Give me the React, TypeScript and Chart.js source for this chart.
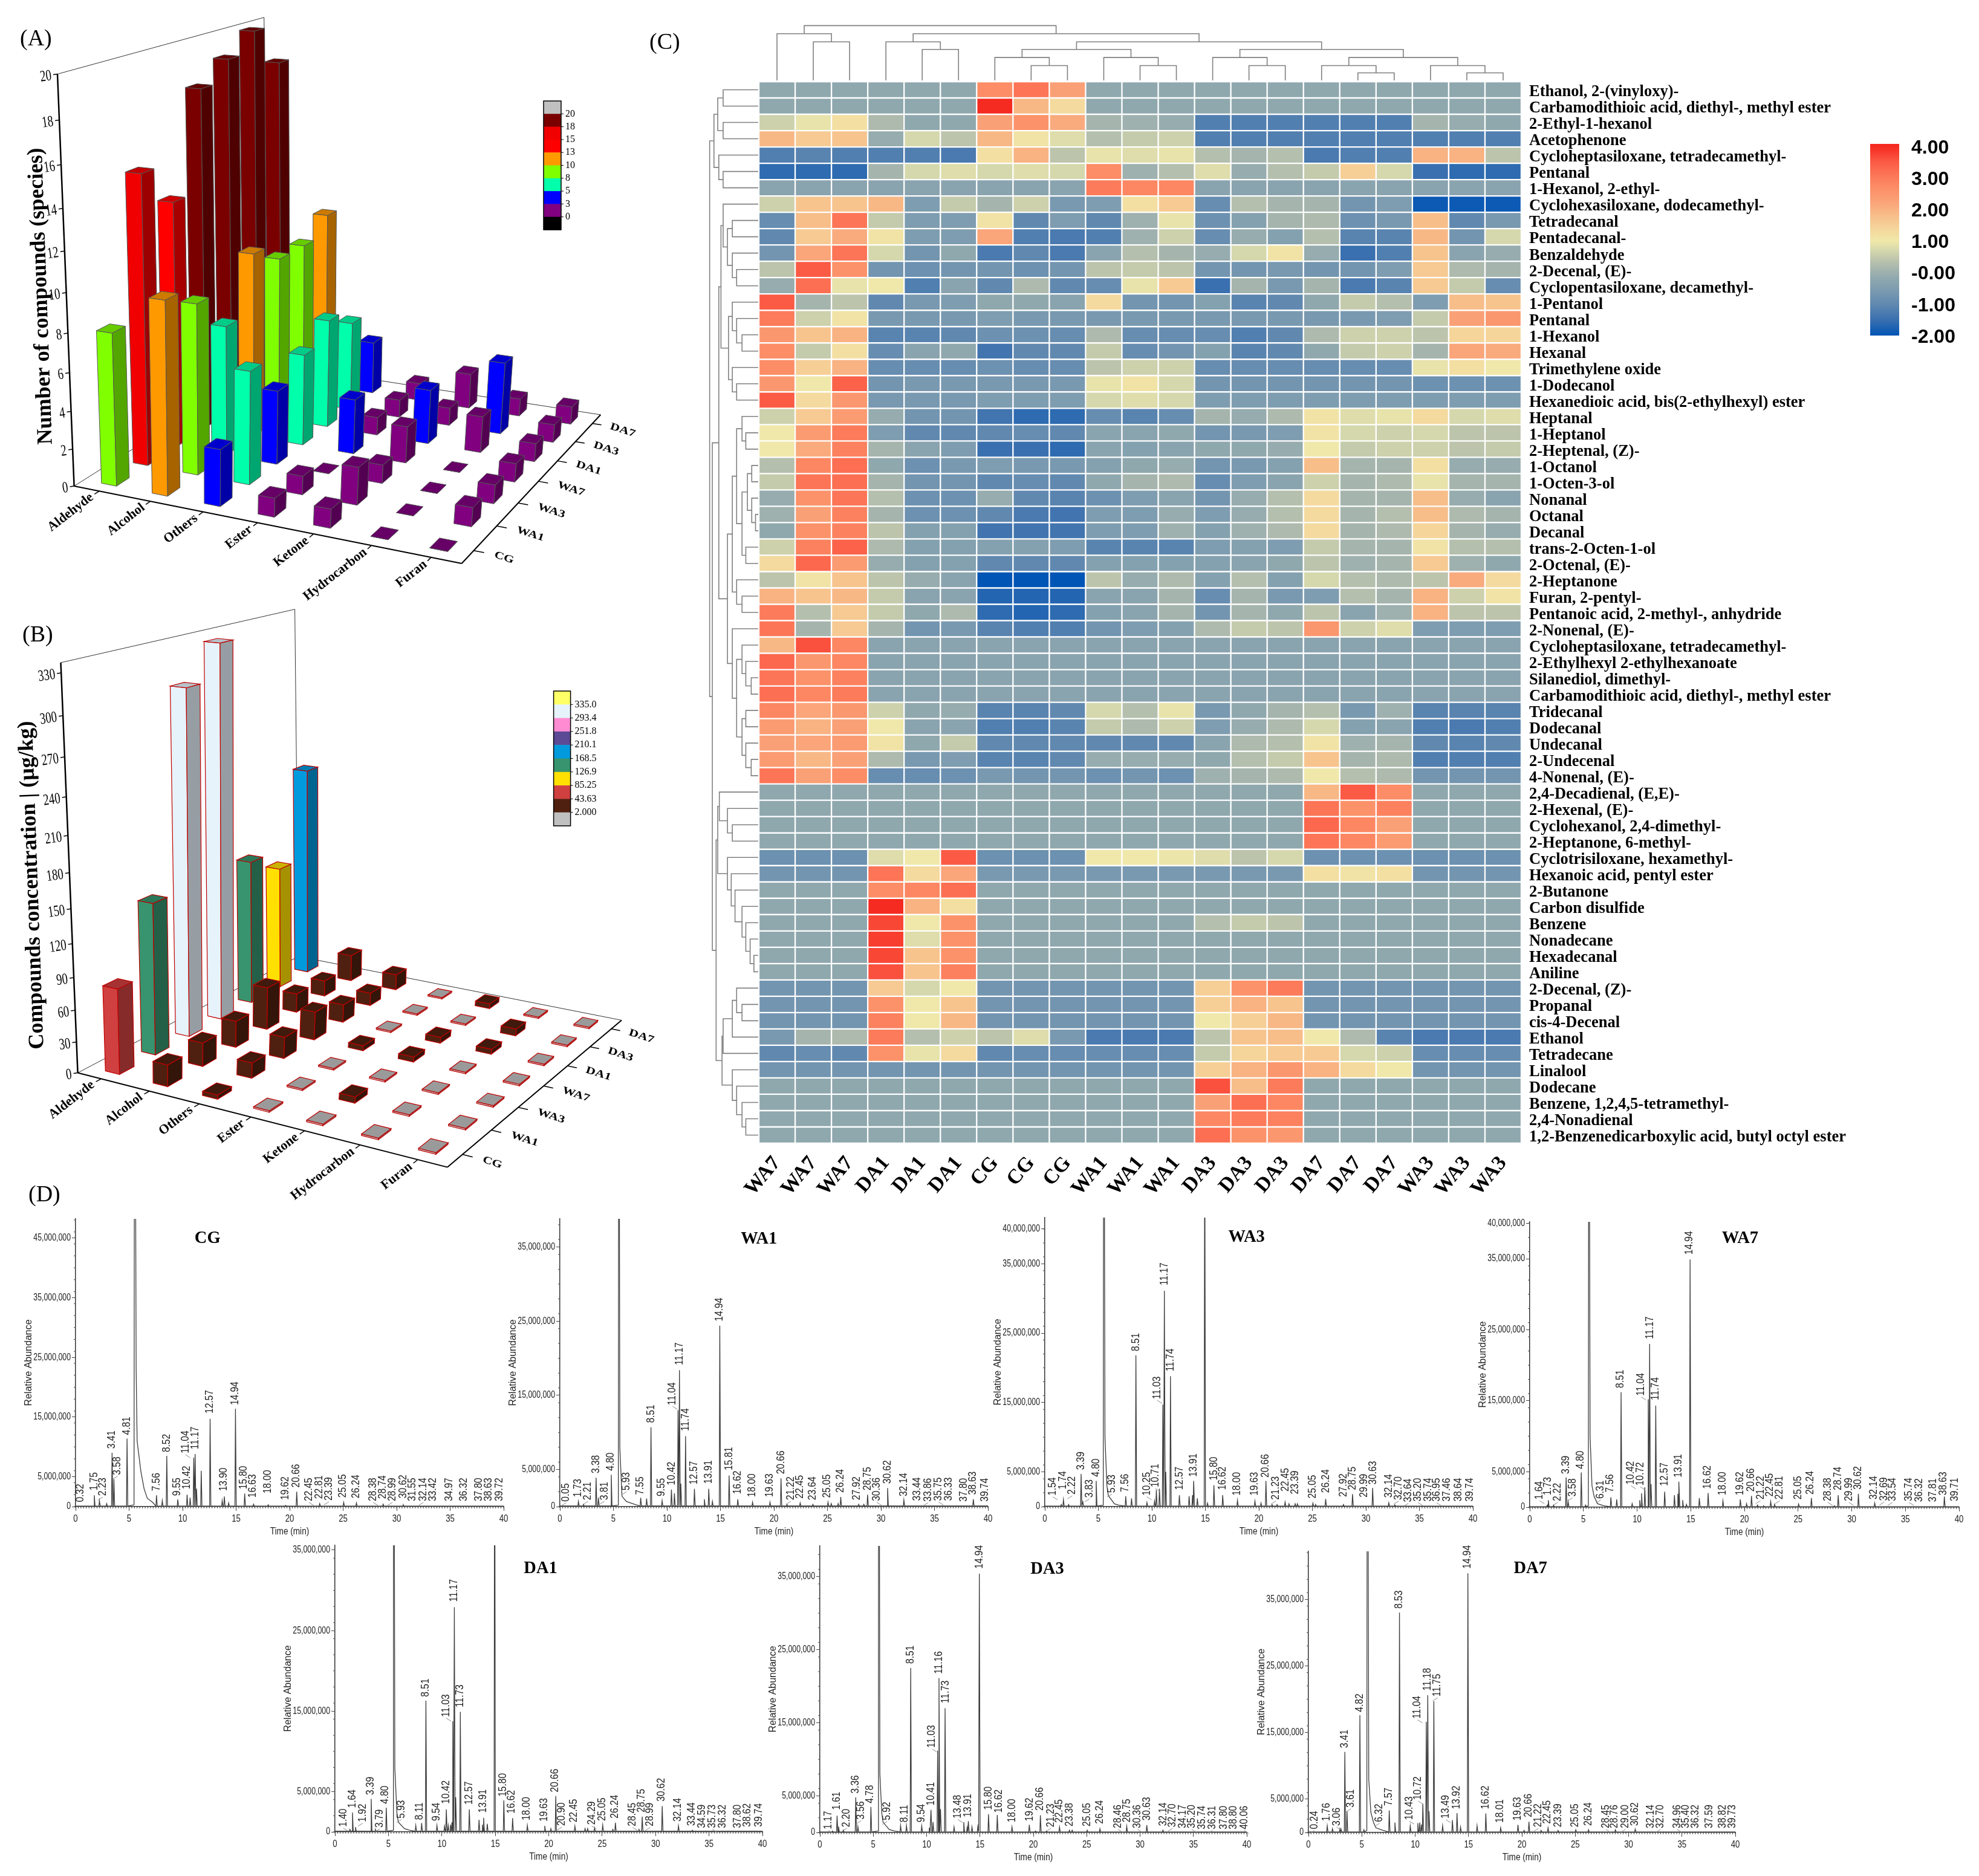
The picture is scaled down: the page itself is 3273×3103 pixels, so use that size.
import { useEffect, useRef } from 'react';
import { Chart, registerables } from 'chart.js';

Chart.register(...registerables);

const SERIF = '"Liberation Serif", serif';
const SANS = '"Liberation Sans", sans-serif';

// ---- panels A and B: compound classes by treatment group
const classNames = ['Aldehyde', 'Alcohol', 'Others', 'Ester', 'Ketone', 'Hydrocarbon', 'Furan'];
const groupNames = ['CG', 'WA1', 'WA3', 'WA7', 'DA1', 'DA3', 'DA7'];

// one row per group, one value per class
const speciesCG = [8, 10, 3, 1, 1, 0, 0];
const speciesWA1 = [15, 9, 6, 1, 2, 0, 1];
const speciesWA3 = [13, 7, 4, 0, 1, 0, 1];
const speciesWA7 = [18, 10, 5, 3, 2, 0, 1];
const speciesDA1 = [19, 9, 6, 1, 3, 2, 1];
const speciesDA3 = [20, 9, 5, 1, 1, 4, 1];
const speciesDA7 = [18, 10, 3, 1, 2, 1, 1];

const concCG = [81, 21, 4, 1.5, 1.5, 1.5, 1.5];
const concWA1 = [142, 23, 15, 1.5, 6, 1.5, 1.5];
const concWA3 = [306, 26, 21, 1.5, 1.5, 1.5, 1.5];
const concWA7 = [333, 42, 28, 5, 5, 1.5, 1.5];
const concDA1 = [140, 19, 18, 1.5, 6, 5, 1.5];
const concDA3 = [121, 16, 13, 1.5, 1.5, 7, 1.5];
const concDA7 = [203, 27, 16, 1.5, 5, 1.5, 1.5];

const speciesLegendTicks = ['20', '18', '15', '13', '10', '8', '5', '3', '0'];
const speciesBandLimits = [2.5, 5, 7.5, 10, 12.5, 15, 17.5, 99];
const speciesBandColors = ['#800080', '#0000FF', '#00FFAA', '#80FF00', '#FF9900', '#FF0000', '#F00000', '#7A0000'];
const speciesLegendColors = ['#C0C0C0', '#7A0000', '#F00000', '#FF0000', '#FF9900', '#80FF00', '#00FFAA', '#0000FF', '#800080', '#000000'];

const concLegendTicks = ['335.0', '293.4', '251.8', '210.1', '168.5', '126.9', '85.25', '43.63', '2.000'];
const concBandLimits = [2, 43.63, 85.25, 126.9, 168.5, 210.1, 251.8, 293.4, 999];
const concBandColors = ['#C0C0C0', '#4F2010', '#D04040', '#FFE000', '#37946E', '#009ADD', '#5C4A96', '#FF8CD2', '#E6F3FB'];
const concLegendColors = ['#FFFF66', '#E6F3FB', '#FF8CD2', '#5C4A96', '#009ADD', '#37946E', '#FFE000', '#D04040', '#4F2010', '#C0C0C0'];

// ---- panel C: clustered heatmap
const heatColumns = ['WA7', 'WA7', 'WA7', 'DA1', 'DA1', 'DA1', 'CG', 'CG', 'CG', 'WA1', 'WA1', 'WA1', 'DA3', 'DA3', 'DA3', 'DA7', 'DA7', 'DA7', 'WA3', 'WA3', 'WA3'];
const heatRows = [
  'Ethanol, 2-(vinyloxy)-', 'Carbamodithioic acid, diethyl-, methyl ester', '2-Ethyl-1-hexanol', 'Acetophenone',
  'Cycloheptasiloxane, tetradecamethyl-', 'Pentanal', '1-Hexanol, 2-ethyl-', 'Cyclohexasiloxane, dodecamethyl-',
  'Tetradecanal', 'Pentadecanal-', 'Benzaldehyde', '2-Decenal, (E)-', 'Cyclopentasiloxane, decamethyl-',
  '1-Pentanol', 'Pentanal', '1-Hexanol', 'Hexanal', 'Trimethylene oxide', '1-Dodecanol',
  'Hexanedioic acid, bis(2-ethylhexyl) ester', 'Heptanal', '1-Heptanol', '2-Heptenal, (Z)-', '1-Octanol',
  '1-Octen-3-ol', 'Nonanal', 'Octanal', 'Decanal', 'trans-2-Octen-1-ol', '2-Octenal, (E)-', '2-Heptanone',
  'Furan, 2-pentyl-', 'Pentanoic acid, 2-methyl-, anhydride', '2-Nonenal, (E)-', 'Cycloheptasiloxane, tetradecamethyl-',
  '2-Ethylhexyl 2-ethylhexanoate', 'Silanediol, dimethyl-', 'Carbamodithioic acid, diethyl-, methyl ester',
  'Tridecanal', 'Dodecanal', 'Undecanal', '2-Undecenal', '4-Nonenal, (E)-', '2,4-Decadienal, (E,E)-',
  '2-Hexenal, (E)-', 'Cyclohexanol, 2,4-dimethyl-', '2-Heptanone, 6-methyl-', 'Cyclotrisiloxane, hexamethyl-',
  'Hexanoic acid, pentyl ester', '2-Butanone', 'Carbon disulfide', 'Benzene', 'Nonadecane', 'Hexadecanal', 'Aniline',
  '2-Decenal, (Z)-', 'Propanal', 'cis-4-Decenal', 'Ethanol', 'Tetradecane', 'Linalool', 'Dodecane',
  'Benzene, 1,2,4,5-tetramethyl-', '2,4-Nonadienal', '1,2-Benzenedicarboxylic acid, butyl octyl ester',
];
const heatValues = [
  [-.2, -.2, -.2, -.2, -.2, -.2, 2.7, 3.1, 2.3, -.2, -.2, -.2, -.2, -.2, -.2, -.2, -.2, -.2, -.2, -.2, -.2],
  [-.2, -.2, -.2, -.2, -.2, -.2, 4, 1.9, 1.3, -.2, -.2, -.2, -.2, -.2, -.2, -.2, -.2, -.2, -.2, -.2, -.2],
  [.6, .9, 1.2, .2, -.2, -.2, 2.3, 2.6, 2.1, .1, 0, -.1, -1.2, -1.2, -1.2, -1.2, -1.2, -1.2, .1, -.1, -.2],
  [1.9, 1.6, 1.7, -.1, .7, .4, 1.9, 1.1, .8, .3, .5, .6, -1.2, -1.2, -1.2, -1.2, -1.2, -1.2, -1.2, -1.2, -1.2],
  [-1.2, -1.1, -1.2, -1.2, -1.2, -1.3, 1.2, 2, .4, .9, .8, .9, .3, .1, .3, -1.3, -1.2, -1.2, 2, 2, .4],
  [-1.6, -1.6, -1.6, .1, .7, .8, .7, .8, .7, 2.7, 0, .3, .8, -.1, .3, .5, 1.5, .7, -1.5, -1.6, -1.6],
  [-.3, -.3, -.3, -.3, -.3, -.3, -.3, -.3, -.3, 3, 2.8, 2.8, -.3, -.3, -.3, -.3, -.3, -.3, -.3, -.3, -.3],
  [.6, 1.7, 1.7, 1.9, -.5, .5, .1, .6, -.6, -.5, 1.2, 1.6, -.9, .3, .1, .1, -.7, -.5, -1.9, -1.9, -1.9],
  [-.9, 1.8, 3.1, .5, -.5, -.5, 1.1, -1, -.5, -1, 0, .9, -.8, -.4, .1, .2, -.8, -.6, 1.8, -1, -.6],
  [-1, 1.6, 2.1, 1.1, -.5, -.5, 2.2, -1.2, -1.3, -1.2, 0, .6, -.9, -.1, -.4, .3, -1.1, -1.1, 1.9, -.7, .7],
  [-.7, 2.2, 3.1, .7, -.7, -.2, -1.3, -1, -1.3, -.3, .3, .1, -.1, .7, 1.1, -.1, -1.5, -1.2, 1.7, -.3, -.1],
  [.4, 3.5, 2.6, -.7, -.8, -.7, -.7, -.8, -.7, .4, .5, .4, -.7, -.7, -.6, -.7, -.7, -.5, 1.6, .2, .1],
  [-.1, 3.2, .9, 1, -1.2, -.3, -1, .2, -1, -.9, .9, 1.6, -1.5, .1, -.6, .1, -1.3, -1.1, 1.6, .5, -.9],
  [3.5, .1, .4, -1, -.6, -.5, -.2, -.2, -.3, 1.3, -.7, -.7, -.4, -1.1, -1, -.2, .5, .3, -.5, 1.8, 1.7],
  [3, .6, 1.1, -.6, -.6, -.6, -.5, -.6, -.6, -.6, -.6, -.6, -.6, -.6, -.6, -.6, -.6, -.5, .5, 2.3, 2.5],
  [2.5, 1.7, 2, -1.1, -1.1, -1, -.8, -.8, -.9, .2, -.9, -.9, -.9, -1.2, -1, .2, .6, .6, .4, 1.4, 1.4],
  [2.7, .5, 1.2, -.9, -.3, -.2, -1.4, -1, -1, .5, -.9, -.7, -.4, -1.1, -1, -.2, .5, .6, .1, 2.2, 2.1],
  [2.7, 1.5, 2, -.9, -.9, -.9, -.8, -.9, -.9, .4, .6, .6, -.9, -.9, -.9, -.9, -.9, -.9, .9, 1.2, 1],
  [2.5, 1, 3.4, -.7, -.6, -.6, -.6, -.6, -.6, .9, 1.1, .7, -.7, -.7, -.7, -.7, -.7, -.7, -.8, -.8, -.8],
  [3.5, 1.3, 2.5, -.6, -.6, -.6, -.5, -.5, -.5, .7, .8, .7, -.5, -.5, -.5, -.5, -.5, -.5, -.5, -.5, -.5],
  [.6, 1.6, 2.4, -.1, -.7, -.7, -1.4, -1.6, -1.6, -.9, -1.1, -.9, .1, -.1, .2, 1.1, .8, .9, 1.3, .7, .8],
  [1, 2.4, 3, -.5, -1, -1, -1, -.9, -1, -.3, -.3, -.2, -.7, -.6, -.5, 1.1, .7, .6, .7, .4, .4],
  [1, 2.1, 2.9, .1, -.3, -.5, -1.5, -1.5, -1.6, -.3, -.4, -.3, -.2, -.2, -.1, 1, .5, .6, .6, .4, .5],
  [.3, 2.8, 3.2, -.2, -.8, -.6, -.5, -.6, -.6, -.4, -.2, -.1, -.7, -.6, -.4, 1.8, .1, .1, 1.2, -.1, -.1],
  [.5, 3.1, 3.2, .1, -.7, -.7, -1, -.9, -1, -.2, .1, .2, -.9, -.5, -.3, .6, .1, .2, .9, .1, .1],
  [-.1, 2.6, 3.1, .3, -.8, -.8, -.1, -1, -1.1, -.8, -.5, -.3, -.7, -.1, .3, 1.3, .1, .1, 1.8, -.1, -.3],
  [0, 2.3, 2.9, .1, -.8, -.8, -1, -1.3, -1.4, -.5, -.5, -.1, -.5, -.1, .3, 1.3, .1, .3, 1.8, .2, .1],
  [-.2, 2.6, 2.9, .4, -.4, -.4, -1.4, -1.4, -1.4, -.5, -.5, 0, -.4, 0, .2, 1.3, .1, .2, 1.4, .1, -.1],
  [.6, 2.9, 3.4, .2, -.4, -.4, -.4, -.4, -.5, -1.1, -1.1, -1.1, -.5, -.4, -.5, .5, .1, .1, 1.1, .3, .3],
  [1.3, 3.3, 2.4, -.1, -.4, -.4, -1, -1, -1, -.4, -.4, -.4, -.4, -.3, -.2, .4, 0, .1, 1.6, 0, -.2],
  [.4, 1.1, 1.7, .4, -.1, -.3, -2, -2, -2, .4, -.1, .2, -.4, .3, -.4, .7, .3, .2, .4, 2.1, 1.3],
  [2, 1.7, 1.9, .5, -.3, -.3, -1.7, -1.7, -1.7, -.3, -.3, .1, -.9, .1, -.6, -.5, .3, .1, 2, .6, 1.1],
  [3, .3, 1.6, .5, -.2, .2, -1.6, -1.7, -1.6, -.4, -.3, .1, -.7, .1, -.2, .4, -.3, 0, 2, .4, .4],
  [3.1, .1, 1.6, .1, -.7, -.6, -1.1, -1.2, -1.2, -.7, -.5, -.4, .2, .5, .4, 2.5, .6, .8, -.5, -.5, -.5],
  [1.9, 3.6, 2.8, -.3, -.3, -.3, -.3, -.3, -.3, -.3, -.3, -.3, -.3, -.3, -.3, -.3, -.3, -.3, -.3, -.3, -.3],
  [3.3, 2.5, 2.8, -.3, -.3, -.3, -.3, -.3, -.3, -.3, -.3, -.3, -.3, -.3, -.3, -.3, -.3, -.3, -.3, -.3, -.3],
  [3.1, 2.6, 2.9, -.3, -.3, -.3, -.3, -.3, -.3, -.3, -.3, -.3, -.3, -.3, -.3, -.3, -.3, -.3, -.3, -.3, -.3],
  [3.2, 2.8, 3, -.3, -.3, -.3, -.3, -.3, -.3, -.3, -.3, -.3, -.3, -.3, -.3, -.3, -.3, -.3, -.3, -.3, -.3],
  [2.8, 2.2, 2.5, .6, -.2, -.1, -1.1, -1.1, -1, .7, .3, .9, -.6, -.2, .1, .3, -.6, 0, -1.1, -1.1, -1.1],
  [2.4, 2, 2.3, 1, -.3, -.3, -1.2, -1.2, -1.1, .5, .2, .6, -.5, -.1, .2, .7, -.4, -.3, -1.2, -1.3, -1.2],
  [2.3, 2.2, 2.4, 1.1, -.2, .5, -1, -1, -1, -1, -1, -1, -.3, .2, .3, 1.1, 0, .1, -1, -1.1, -1],
  [2.4, 1.9, 2.3, .2, -.6, -.5, -1.1, -1.1, -1, -.1, -.1, -.1, -.2, .3, .5, 1.7, .1, .2, -1.2, -1.2, -1.2],
  [3.1, 2.3, 2.7, -.9, -.9, -.8, -.6, -.7, -.7, -.8, -.7, -.8, 0, .1, .2, 1, .3, .2, -.7, -.7, -.7],
  [-.2, -.2, -.2, -.2, -.2, -.2, -.2, -.2, -.2, -.2, -.2, -.2, -.2, -.2, -.2, 1.9, 3.5, 2.7, -.2, -.2, -.2],
  [-.2, -.2, -.2, -.2, -.2, -.2, -.2, -.2, -.2, -.2, -.2, -.2, -.2, -.2, -.2, 3.1, 2.6, 2.9, -.2, -.2, -.2],
  [-.2, -.2, -.2, -.2, -.2, -.2, -.2, -.2, -.2, -.2, -.2, -.2, -.2, -.2, -.2, 3.3, 2.8, 2.3, -.2, -.2, -.2],
  [-.2, -.2, -.2, -.2, -.2, -.2, -.2, -.2, -.2, -.2, -.2, -.2, -.2, -.2, -.2, 3.1, 2.8, 2.4, -.2, -.2, -.2],
  [-.8, -.8, -.8, .8, 1, 3.5, -.8, -.8, -.8, 1, 1, .95, .8, .4, .7, -.8, -.8, -.8, -.8, -.8, -.8],
  [-.7, -.7, -.7, 3.1, 1.3, 2.2, -.6, -.6, -.6, -.6, -.6, -.6, -.6, -.6, -.6, 1.2, 1.1, 1.2, -.7, -.7, -.7],
  [-.2, -.2, -.2, 2.7, 2.8, 3.2, -.2, -.2, -.2, -.2, -.2, -.2, -.2, -.2, -.2, -.2, -.2, -.2, -.2, -.2, -.2],
  [-.2, -.2, -.2, 4, 2, 1.2, -.2, -.2, -.2, -.2, -.2, -.2, -.2, -.2, -.2, -.2, -.2, -.2, -.2, -.2, -.2],
  [-.2, -.2, -.2, 3.7, 1, 2.6, -.2, -.2, -.2, -.2, -.2, -.2, .3, .5, .4, -.2, -.2, -.2, -.2, -.2, -.2],
  [-.2, -.2, -.2, 3.8, .8, 2.6, -.2, -.2, -.2, -.2, -.2, -.2, -.2, -.2, -.2, -.2, -.2, -.2, -.2, -.2, -.2],
  [-.2, -.2, -.2, 3.7, 1.7, 2.6, -.2, -.2, -.2, -.2, -.2, -.2, -.2, -.2, -.2, -.2, -.2, -.2, -.2, -.2, -.2],
  [-.2, -.2, -.2, 3.6, 1.7, 2.9, -.2, -.2, -.2, -.2, -.2, -.2, -.2, -.2, -.2, -.2, -.2, -.2, -.2, -.2, -.2],
  [-.7, -.7, -.7, 1.6, .7, 1, -.7, -.7, -.7, -.7, -.7, -.7, 1.5, 2.6, 3, -.7, -.7, -.7, -.7, -.7, -.7],
  [-.7, -.7, -.7, 2.6, 1, 1.7, -.7, -.7, -.7, -.7, -.7, -.7, 1.5, 2, 1.7, -.7, -.7, -.7, -.7, -.7, -.7],
  [-.7, -.7, -.7, 2.9, 1, 1.9, -.7, -.7, -.7, -.7, -.7, -.7, 1, 1.5, 1.9, -.7, -.7, -.7, -.7, -.7, -.7],
  [-.6, .1, .2, 3, .3, .6, .4, .8, -.6, -1.3, -1.3, -1.3, .4, 1.7, 1.8, 1, .2, -1.1, -1.3, -1.3, -1.3],
  [-1, -.9, -1, 2.6, .9, 1.3, -1, -.9, -.9, -.9, -.9, -.9, .5, 1.4, 1.6, 1.6, .7, .6, -.9, -.9, -.9],
  [-.7, -.7, -.7, -.7, -.7, -.7, -.7, -.7, -.7, -.7, -.7, -.7, 1.5, 2, 2.5, 2, 1.3, 1, -.7, -.7, -.7],
  [-.2, -.2, -.2, -.2, -.2, -.2, -.2, -.2, -.2, -.2, -.2, -.2, 3.6, 1.8, 3, -.2, -.2, -.2, -.2, -.2, -.2],
  [-.2, -.2, -.2, -.2, -.2, -.2, -.2, -.2, -.2, -.2, -.2, -.2, 2.3, 3.2, 2.8, -.2, -.2, -.2, -.2, -.2, -.2],
  [-.2, -.2, -.2, -.2, -.2, -.2, -.2, -.2, -.2, -.2, -.2, -.2, 2.8, 3, 2.9, -.2, -.2, -.2, -.2, -.2, -.2],
  [-.2, -.2, -.2, -.2, -.2, -.2, -.2, -.2, -.2, -.2, -.2, -.2, 3.2, 2.6, 2.5, -.2, -.2, -.2, -.2, -.2, -.2],
];
const heatStopValues = [-2, -1.5, -1, -.5, -.2, .1, .4, .7, 1, 1.4, 1.8, 2.2, 2.7, 3.1, 3.5, 4];
const heatStopColors = ['#0055B5', '#3A70AF', '#6189B0', '#7F9DB0', '#8FA8AE', '#A5B5AE', '#BCC4AC', '#D5D8AC', '#F0E8AA', '#F5D59A', '#F7BE8A', '#FAA57A', '#FC8D66', '#FC7556', '#FB5B45', '#F52A20'];
const heatBarTicks = [4, 3, 2, 1, 0, -1, -2];
const heatBarLabels = ['4.00', '3.00', '2.00', '1.00', '-0.00', '-1.00', '-2.00'];

// dendrograms: [merge level, left, right], a number is a leaf index
const columnTree = [95,
  [125, 0, [155, 1, 2]],
  [125, [155, 3, [183, 4, 5]],
    [155,
      [183, [213, 6, [243, 7, 8]], [213, 9, [243, 10, 11]]],
      [183, [213, 12, [243, 13, 14]],
        [213, [243, 15, [270, 16, 17]], [243, 18, [270, 19, 20]]]]]]];

const rowTree = [25,
  [33, [40, [50, 0, 1], [50, 2, 3]], [42, 4, [50, 5, 6]]],
  [30,
    [42,
      [46,
        [50, 7, [58, [67, 8, 9], [67, 10, [75, 11, 12]]]],
        [60, [67, 13, [75, 14, [85, 15, 16]]], [67, 17, [75, 18, 19]]]],
      [58,
        [67, [75, [85, 20, [92, 21, 22]], [85, [95, [103, 23, 24], [103, 25, [110, 26, 27]]], [92, 28, 29]]], [75, 30, [85, 31, 32]]],
        [67, 33, [75, [85, 34, [92, 35, [102, 36, 37]]], [85, [92, 38, 39], [92, 40, [102, 41, 42]]]]]]],
    [37,
      [40, [43, 43, [58, 44, [67, 45, 46]]], [58, 47, [65, 48, [72, 49, [85, 50, [92, 51, [100, 52, [107, 53, 54]]]]]]]],
      [48, [50, [67, [75, 55, [85, 56, 57]], 58], 59], [67, 60, [75, 61, [85, 62, [92, 63, 64]]]]]]]];

// ---- panel D: chromatograms. peaks are [time, abundance in millions]; labels are [text, column in min, foot of text in millions]
const cgTail = [[5.46, .3], [5.5, 70], [5.58, 70], [5.66, 23], [5.75, 11], [6.1, 5.9], [6.4, 3], [6.7, 1.4], [7.2, .7], [7.4, .3]];
const cgPeaks = [[1.75, 1.9], [2.23, 1], [2.9, .5], [3.41, 9], [3.58, 4.6], [4.81, 11.4], [7.56, 1.9], [8.1, 1], [8.52, 8.5], [9.55, 1.2], [10.42, 2], [10.7, 1.5], [11.04, 8.2], [11.17, 8.8], [11.3, 3], [11.74, 6], [12.57, 14.7], [13.7, 1], [13.9, 1.7], [14.3, .6], [14.94, 16.4], [15.8, 2.2], [16.63, .4], [18, .3], [19.62, .2], [20.66, 2.5], [22.81, .5], [25.05, .7], [26.24, .6], [28.74, .4], [30.62, .3]];
const cgLabels = [['0.32', .46, .65], ['1.75', 1.75, 2.6], ['2.23', 2.54, 1.7], ['3.41', 3.4, 9.6], ['3.58', 3.92, 5.2], ['4.81', 4.81, 11.9], ['7.56', 7.56, 2.5], ['8.52', 8.51, 9], ['9.55', 9.5, 1.7], ['10.42', 10.41, 2.8], ['11.04', 10.26, 8.8], ['11.17', 11.2, 9.5], ['12.57', 12.56, 15.5], ['13.90', 13.87, 2.5], ['14.94', 14.92, 16.9], ['15.80', 15.71, 2.8], ['16.63', 16.57, 1.4], ['18.00', 17.95, 2.1], ['19.62', 19.6, 1], ['20.66', 20.61, 3.1], ['22.45', 21.8, .8], ['22.81', 22.8, 1.2], ['23.39', 23.67, .9], ['25.05', 24.96, 1.4], ['26.24', 26.2, 1.3], ['28.38', 27.8, .8], ['28.74', 28.7, 1.2], ['28.99', 29.6, .8], ['30.62', 30.6, 1.3], ['31.55', 31.5, .8], ['32.14', 32.5, .8], ['33.42', 33.4, .8], ['34.97', 34.9, .8], ['36.32', 36.3, .8], ['37.80', 37.7, .8], ['38.63', 38.6, .8], ['39.72', 39.6, .8]];

const wa1Tail = [[5.46, .2], [5.49, 60], [5.54, 60], [5.6, 8], [5.8, 1.4], [6.2, .7], [7, .3]];
const wa1Peaks = [[1.73, .7], [2.21, .3], [3.38, 3.9], [3.6, 1.2], [4.8, 4.3], [7.55, 1.2], [8.1, 1.1], [8.51, 10.7], [9.55, .8], [10.42, 2.3], [10.7, 1.8], [11.04, 13], [11.17, 18.4], [11.3, 3.1], [11.74, 9.5], [12.57, 2.4], [13.5, 1], [13.91, 2.4], [14.25, .7], [14.94, 24.4], [15.81, 4.2], [16.62, 1], [18, .6], [19.63, .6], [20.66, 3.8], [21.22, .3], [22.45, .5], [23.64, .3], [25.05, .6], [25.35, .4], [26, .4], [26.24, 1.3], [27.92, .3], [28.4, .3], [28.75, 1.6], [30.62, 2.5], [32.14, .9], [38.63, 1]];
const wa1Labels = [['0.05', .58, .6], ['1.73', 1.71, 1.2], ['2.21', 2.63, .8], ['3.38', 3.37, 4.4], ['3.81', 4.16, .8], ['4.80', 4.77, 4.75], ['5.93', 6.24, 2.1], ['7.55', 7.5, 1.5], ['8.51', 8.54, 11.2], ['9.55', 9.52, 1.3], ['10.42', 10.44, 2.8], ['11.04', 10.53, 13.6], ['11.17', 11.2, 19], ['11.74', 11.75, 10.1], ['12.57', 12.55, 2.9], ['13.91', 13.9, 3], ['14.94', 14.94, 24.9], ['15.81', 15.8, 4.8], ['16.62', 16.59, 1.6], ['18.00', 17.96, 1.2], ['19.63', 19.62, 1.2], ['20.66', 20.66, 4.3], ['21.22', 21.58, .8], ['22.45', 22.46, 1], ['23.64', 23.6, .8], ['25.05', 25, 1.1], ['26.24', 26.2, 1.8], ['27.92', 27.73, .8], ['28.75', 28.74, 2.1], ['30.36', 29.6, .67], ['30.62', 30.63, 3], ['32.14', 32.16, 1.3], ['33.44', 33.39, .7], ['33.86', 34.4, .6], ['35.75', 35.38, .7], ['36.33', 36.33, .7], ['37.80', 37.77, .6], ['38.63', 38.6, 1.5], ['39.74', 39.7, .6]];

const wa3Tail = [[5.46, .2], [5.49, 60], [5.55, 60], [5.62, 10], [5.8, 3], [5.93, 1.6], [6.5, .4], [6.9, .2]];
const wa3Peaks = [[1.54, .3], [1.74, 1], [2.22, .3], [3.39, 4.7], [3.55, .7], [4.8, 3.7], [7.56, 1.5], [8.1, 1.2], [8.51, 21.8], [9.54, .6], [10.25, .8], [10.42, 2.4], [10.71, 2.6], [11.03, 14.7], [11.17, 31.1], [11.3, 5], [11.74, 18.8], [12.57, 1.65], [13.48, 1.5], [13.8, 1.65], [13.91, 3.7], [14.25, 1.2], [14.94, 60], [15.2, .5], [15.8, 3.1], [16.62, 1.65], [18, .9], [19.63, .8], [20.2, .5], [20.66, 3.7], [21.23, .3], [21.7, .3], [22.45, .65], [22.81, .4], [23.39, .4], [23.6, .4], [25.05, .5], [25.3, .3], [26.24, 1.1], [27.9, .3], [28.75, 1.8], [30.63, 2.7], [32.14, .55], [32.7, .25]];
const wa3Labels = [['1.54', .74, 1.5], ['1.74', 1.72, 2.4], ['2.22', 2.57, 1.65], ['3.39', 3.37, 5.2], ['3.83', 4.17, 1.2], ['4.80', 4.81, 4.2], ['5.93', 6.28, 1.9], ['7.56', 7.53, 2], ['8.51', 8.51, 22.3], ['10.25', 9.53, 1.5], ['10.71', 10.32, 2.7], ['11.03', 10.5, 15.4], ['11.17', 11.21, 31.8], ['11.74', 11.76, 19.4], ['12.57', 12.59, 2.3], ['13.91', 13.9, 4.2], ['15.80', 15.8, 3.7], ['16.62', 16.6, 2.3], ['18.00', 17.98, 1.5], ['19.63', 19.63, 1.5], ['20.66', 20.64, 4.1], ['21.23', 21.6, .9], ['22.45', 22.48, 2.1], ['23.39', 23.4, 1.7], ['25.05', 25.05, 1.1], ['26.24', 26.28, 1.9], ['27.92', 27.9, 1.3], ['28.75', 28.76, 2.3], ['29.99', 29.83, 1.25], ['30.63', 30.66, 3.1], ['32.14', 32.13, 1.2], ['32.70', 33.05, .87], ['33.64', 33.97, .56], ['35.20', 34.88, .65], ['35.74', 35.8, .65], ['36.95', 36.6, .65], ['37.46', 37.55, .65], ['38.64', 38.65, .65], ['39.74', 39.75, .65]];

const wa7Tail = [[5.46, .2], [5.49, 60], [5.55, 60], [5.62, 10], [5.8, 3], [6, 1.5], [6.31, .5], [6.9, .2]];
const wa7Peaks = [[1.64, .3], [1.73, 1], [2.22, .3], [3.39, 4.2], [3.58, .8], [4.8, 4.9], [5.2, .3], [7.56, 1.4], [8.1, 1.1], [8.51, 16.2], [9.54, .5], [10.25, 1], [10.42, 1.95], [10.72, 2.8], [11.04, 15.2], [11.17, 23], [11.3, 3.25], [11.74, 14.3], [12.57, 2.2], [13.48, 1.7], [13.8, 1.9], [13.91, 3.6], [14.25, 1], [14.6, .4], [14.94, 34.9], [15.8, 1.3], [16.62, 2], [18, .9], [19.62, 1.1], [20.2, .5], [20.66, 1.6], [21.22, .3], [21.8, .2], [22.45, .8], [22.81, .4], [25.05, .45], [26.24, 1.3], [28.38, .2], [28.74, 1.7], [30.62, 1.9], [32.14, .6], [38.63, 1.5]];
const wa7Labels = [['1.64', .92, 1], ['1.73', 1.69, 1.6], ['2.22', 2.6, .76], ['3.39', 3.37, 4.6], ['3.58', 3.98, 1.4], ['4.80', 4.75, 5.3], ['6.31', 6.62, 1.1], ['7.56', 7.51, 2], ['8.51', 8.46, 16.7], ['10.42', 9.44, 3.1], ['10.72', 10.3, 2.95], ['11.04', 10.39, 15.6], ['11.17', 11.19, 23.6], ['11.74', 11.74, 15], ['12.57', 12.54, 2.9], ['13.91', 13.89, 4.1], ['14.94', 14.9, 35.5], ['16.62', 16.58, 2.5], ['18.00', 17.96, 1.6], ['19.62', 19.59, 1.6], ['20.66', 20.6, 2.1], ['21.22', 21.5, 1], ['22.45', 22.38, 1.4], ['22.81', 23.3, 1], ['25.05', 25, 1], ['26.24', 26.15, 1.7], ['28.38', 27.77, .76], ['28.74', 28.75, 2.3], ['29.99', 29.73, .76], ['30.62', 30.59, 2.4], ['32.14', 32.06, 1], ['32.69', 33.04, .82], ['33.54', 33.8, .76], ['35.74', 35.34, .76], ['36.32', 36.26, .67], ['37.81', 37.58, .67], ['38.63', 38.56, 1.6], ['39.71', 39.63, .76]];

const da1Tail = [[5.44, .2], [5.47, 60], [5.53, 60], [5.6, 8], [5.8, 2.2], [5.93, 1.2], [6.5, .4], [7, .2]];
const da1Peaks = [[1.4, .3], [1.64, 2.4], [1.92, .6], [3.39, 4.1], [3.79, .3], [4.8, 3], [7.56, .8], [8.11, 1.1], [8.51, 16.3], [9.54, .8], [10.25, .7], [10.42, 2.8], [10.6, .8], [10.8, .9], [10.95, 1.2], [11.03, 13.75], [11.17, 27.9], [11.3, 4.3], [11.73, 14.9], [12.57, 2.8], [13.48, 1.5], [13.8, .9], [13.91, 1.75], [14.25, 1], [14.94, 60], [15.8, 3.9], [16.62, 1.7], [18, .8], [19.63, .75], [20.2, .4], [20.66, 4.45], [22.45, .7], [23.4, .4], [23.64, .4], [24.29, .5], [25.05, .85], [26, .3], [26.24, 1.15], [28.45, .3], [28.75, 1.9], [30.62, 3.2], [32.14, .75], [33.44, .2]];
const da1Labels = [['1.40', .77, .55], ['1.64', 1.62, 2.9], ['1.92', 2.6, 1.15], ['3.39', 3.34, 4.5], ['3.79', 4.2, .45], ['4.80', 4.72, 3.4], ['5.93', 6.22, 1.6], ['8.11', 7.9, 1.4], ['8.51', 8.49, 16.7], ['9.54', 9.5, 1.27], ['10.42', 10.42, 3.4], ['11.03', 10.42, 14.2], ['11.17', 11.16, 28.5], ['11.73', 11.71, 15.4], ['12.57', 12.54, 3.3], ['13.91', 13.85, 2.3], ['15.80', 15.72, 4.3], ['16.62', 16.52, 2.2], ['18.00', 17.93, 1.35], ['19.63', 19.59, 1.2], ['20.66', 20.6, 4.85], ['20.90', 21.24, .67], ['22.45', 22.38, 1.1], ['24.29', 24.03, .8], ['25.05', 25.01, 1.27], ['26.24', 26.2, 1.6], ['28.45', 27.86, .62], ['28.75', 28.69, 2.35], ['28.99', 29.49, .62], ['30.62', 30.56, 3.7], ['32.14', 32.09, 1.2], ['33.44', 33.38, .67], ['34.59', 34.36, .4], ['35.73', 35.31, .4], ['36.32', 36.26, .4], ['37.80', 37.7, .4], ['38.62', 38.59, .55], ['39.74', 39.69, .55]];

const da3Tail = [[5.46, .2], [5.49, 60], [5.56, 60], [5.62, 8], [5.8, 2.6], [5.92, 1.4], [6.5, .4], [7, .2]];
const da3Peaks = [[1.17, .2], [1.61, 2.3], [1.75, .8], [2.2, .3], [3.36, 4.8], [3.56, .8], [4.78, 3.5], [7.56, .95], [8.11, .95], [8.51, 22.5], [9.54, .9], [10.25, .65], [10.41, 3.1], [10.6, 1.45], [11.03, 11.2], [11.16, 21.1], [11.3, 3.2], [11.73, 17], [12.57, .75], [13.48, 1.4], [13.8, .65], [13.91, 1.55], [14.25, .75], [14.8, .8], [14.94, 35.4], [15.8, 2.5], [16.62, 2.4], [18, .75], [19.62, 1.05], [20.2, .2], [20.66, 2.35], [21.23, .2], [22.45, .75], [23.38, .3], [23.64, .3], [25.05, .3], [26.24, .5], [28.75, .85], [30.63, 1], [32.14, .3]];
const da3Labels = [['1.17', .8, .36], ['1.61', 1.6, 3], ['2.20', 2.52, .65], ['3.36', 3.35, 5.25], ['3.56', 3.87, 1.7], ['4.78', 4.73, 3.9], ['5.92', 6.3, 1.6], ['8.11', 7.96, 1.3], ['8.51', 8.51, 23], ['9.54', 9.55, 1.3], ['10.41', 10.41, 3.6], ['11.03', 10.51, 11.5], ['11.16', 11.18, 21.6], ['11.73', 11.77, 17.6], ['13.48', 12.93, 1.85], ['13.91', 13.89, 2], ['14.94', 14.94, 36], ['15.80', 15.79, 3], ['16.62', 16.77, 2.6], ['18.00', 18, 1.3], ['19.62', 19.66, 1.45], ['20.66', 20.65, 2.9], ['21.23', 21.66, .65], ['22.45', 22.46, 1.25], ['23.38', 23.41, .75], ['25.05', 25.07, .75], ['26.24', 26.24, 1.1], ['28.46', 27.93, .5], ['28.75', 28.76, 1.3], ['30.36', 29.77, .5], ['30.63', 30.63, 1.55], ['32.14', 32.17, .8], ['32.70', 33.06, .65], ['34.17', 34.01, .5], ['35.20', 34.84, .5], ['35.74', 35.82, .36], ['36.31', 36.77, .36], ['37.80', 37.85, .36], ['38.80', 38.77, .36], ['40.06', 39.75, .36]];

const da7Tail = [[5.47, .3], [5.5, 60], [5.58, 60], [5.65, 8], [5.85, 3], [6.1, 1.5], [6.32, .7], [7, .3]];
const da7Peaks = [[.24, .1], [1.76, 1], [2.25, .55], [2.95, .55], [3.06, .5], [3.41, 12.1], [3.61, 3.2], [4.82, 17.6], [5.2, .4], [7.57, 3.3], [8.1, 1.5], [8.53, 33], [9.54, 1], [10.25, 1.4], [10.43, 1.5], [10.6, 1.2], [10.72, 4.3], [11.04, 16.6], [11.18, 20.6], [11.3, 3.2], [11.75, 19.7], [12.57, 1], [13.49, 1.85], [13.92, 2.9], [14.25, .8], [14.94, 38.9], [15.8, 1], [16.62, 2.85], [18.01, .7], [19.63, 1.15], [20.2, .3], [20.66, 1.6], [21.8, .3], [22.45, .7], [23.39, .3], [25.05, .4], [26.24, .4], [28.76, .4], [30.62, .5]];
const da7Labels = [['0.24', .58, .4], ['1.76', 1.69, 1.6], ['3.06', 2.64, .9], ['3.41', 3.38, 12.6], ['3.61', 3.99, 3.65], ['4.82', 4.82, 18], ['6.32', 6.66, 1.47], ['7.57', 7.55, 3.9], ['8.53', 8.5, 33.5], ['10.43', 9.45, 1.8], ['10.72', 10.28, 4.8], ['11.04', 10.22, 17], ['11.18', 11.17, 21.2], ['11.75', 12.1, 20.3], ['13.49', 12.89, 2], ['13.92', 13.88, 3.4], ['14.94', 14.92, 39.5], ['16.62', 16.58, 3.4], ['18.01', 17.96, 1.37], ['19.63', 19.59, 1.7], ['20.66', 20.63, 2.2], ['21.22', 21.55, .7], ['22.45', 22.41, 1.2], ['23.39', 23.39, .7], ['25.05', 24.99, .7], ['26.24', 26.22, .9], ['28.45', 27.87, .55], ['28.76', 28.7, .55], ['29.00', 29.69, .55], ['30.62', 30.6, .9], ['32.14', 32.08, .55], ['32.70', 33, .55], ['34.96', 34.54, .55], ['35.40', 35.36, .55], ['36.32', 36.29, .55], ['37.59', 37.54, .55], ['38.82', 38.8, .55], ['39.73', 39.72, .55]];

// ---- helpers
function hexToRgb(hex: string) {
  return [parseInt(hex.slice(1, 3), 16), parseInt(hex.slice(3, 5), 16), parseInt(hex.slice(5, 7), 16)];
}

function shade(hex: string, k: number) {
  const c = hexToRgb(hex);
  return `rgb(${c[0] * k},${c[1] * k},${c[2] * k})`;
}

function heatColor(v: number) {
  let i = 0;
  while (i < heatStopValues.length - 2 && v > heatStopValues[i + 1]) i++;
  const t = Math.max(0, Math.min(1, (v - heatStopValues[i]) / (heatStopValues[i + 1] - heatStopValues[i])));
  const a = hexToRgb(heatStopColors[i]);
  const b = hexToRgb(heatStopColors[i + 1]);
  return `rgb(${a[0] + (b[0] - a[0]) * t},${a[1] + (b[1] - a[1]) * t},${a[2] + (b[2] - a[2]) * t})`;
}

function ChartCanvas({ left, top, width, height, config }: any) {
  const ref = useRef<HTMLCanvasElement>(null);
  useEffect(() => {
    if (!ref.current) return;
    const chart = new Chart(ref.current, config);
    return () => chart.destroy();
  }, [config]);
  return <canvas ref={ref} width={width} height={height} style={{ position: 'absolute', left, top, width, height }} />;
}

// ---- 3D bar panels
// unit square of the floor to the page, plus the vertical axis, as one projective matrix
function makeProjection(f: any) {
  const [x0, y0] = f.origin, [x1, y1] = f.frontRight, [x2, y2] = f.backRight, [x3, y3] = f.backLeft;
  const [x4, y4] = f.axisTop, [x5, y5] = f.backTop;
  const dx1 = x1 - x2, dx2 = x3 - x2, sx = x0 - x1 + x2 - x3;
  const dy1 = y1 - y2, dy2 = y3 - y2, sy = y0 - y1 + y2 - y3;
  const den = dx1 * dy2 - dx2 * dy1;
  const g = (sx * dy2 - dx2 * sy) / den;
  const h = (dx1 * sy - sx * dy1) / den;
  const a = x1 - x0 + g * x1, b = x3 - x0 + h * x3, c = x0;
  const d = y1 - y0 + g * y1, e = y3 - y0 + h * y3, ff = y0;
  const i = (e + y4 - y5 * (1 + h)) / (y5 - y4);
  const cz = x4 * (i + 1) - c, fz = y4 * (i + 1) - ff;
  // small shear so the back wall corner lands where it should in x as well
  const shear = x5 - (b + cz + c) / (h + i + 1);
  return (u: number, v: number, w: number) => {
    const q = g * u + h * v + i * w + 1;
    return [(a * u + b * v + cz * w + c) / q + shear * v * w, (d * u + e * v + fz * w + ff) / q];
  };
}

function poly(ctx: any, pts: number[][], fill: string, stroke: string, lw: number) {
  ctx.beginPath();
  pts.forEach((p, i) => (i ? ctx.lineTo(p[0], p[1]) : ctx.moveTo(p[0], p[1])));
  ctx.closePath();
  ctx.fillStyle = fill;
  ctx.fill();
  ctx.strokeStyle = stroke;
  ctx.lineWidth = lw;
  ctx.stroke();
}

function line(ctx: any, a: number[], b: number[], color: string, lw: number) {
  ctx.beginPath();
  ctx.moveTo(a[0], a[1]);
  ctx.lineTo(b[0], b[1]);
  ctx.strokeStyle = color;
  ctx.lineWidth = lw;
  ctx.stroke();
}

function textAt(ctx: any, s: string, x: number, y: number, font: string, angle: number, align: string, sx = 1, sy = 1, color = '#000') {
  ctx.save();
  ctx.translate(x, y);
  ctx.rotate((angle * Math.PI) / 180);
  ctx.scale(sx, sy);
  ctx.font = font;
  ctx.fillStyle = color;
  ctx.textAlign = align;
  ctx.textBaseline = 'middle';
  ctx.fillText(s, 0, 0);
  ctx.restore();
}

function make3dConfig(p: any) {
  const points: any[] = [];
  p.rows.forEach((row: number[], g: number) => row.forEach((val, c) => points.push({ x: c + 0.5, y: val, z: g + 0.5 })));
  const project = makeProjection(p.frame);

  const plugin = {
    id: 'bars3d',
    afterDatasetsDraw(chart: any) {
      const { ctx, scales } = chart;
      const dec = (s: any, v: number) => s.getDecimalForPixel(s.getPixelForValue(v));
      const P = (x: number, z: number, y: number) => project(dec(scales.x, x), dec(scales.z, z), dec(scales.y, y));
      const n = classNames.length;

      // walls and floor
      line(ctx, P(0, 0, 0), P(0, n, 0), '#333', 1);
      line(ctx, P(0, n, 0), P(n, n, 0), '#333', 1);
      line(ctx, P(n, n, 0), P(n, 0, 0), '#000', 2);
      line(ctx, P(n, 0, 0), P(0, 0, 0), '#000', 2);
      line(ctx, P(0, 0, p.yMax), P(0, n, p.yMax), '#333', 1);
      line(ctx, P(0, n, p.yMax), P(0, n, 0), '#333', 1);

      // far rows first, left to right inside a row
      const sorted = chart.data.datasets[0].data.slice().sort((a: any, b: any) => b.z - a.z || a.x - b.x);
      sorted.forEach((b: any) => {
        const limit = p.bandLimits.findIndex((l: number) => b.y < l);
        const col = p.bandColors[limit < 0 ? p.bandColors.length - 1 : limit];
        const x0 = b.x - 0.15, x1 = b.x + 0.15, z0 = b.z - 0.2, z1 = b.z + 0.2;
        poly(ctx, [P(x0, z0, 0), P(x1, z0, 0), P(x1, z0, b.y), P(x0, z0, b.y)], col, p.stroke, p.strokeWidth);
        poly(ctx, [P(x1, z0, 0), P(x1, z1, 0), P(x1, z1, b.y), P(x1, z0, b.y)], shade(col, 0.65), p.stroke, p.strokeWidth);
        poly(ctx, [P(x0, z0, b.y), P(x1, z0, b.y), P(x1, z1, b.y), P(x0, z1, b.y)], shade(col, 0.8), p.stroke, p.strokeWidth);
      });

      // value axis
      line(ctx, P(0, 0, 0), P(0, 0, p.yMax), '#000', 2.5);
      scales.y.ticks.forEach((t: any) => {
        const a = P(0, 0, t.value);
        line(ctx, a, [a[0] - 7, a[1] + 1], '#000', 1.5);
        textAt(ctx, String(t.value), a[0] - 10, a[1] + 3, `26px ${SERIF}`, -8, 'right', 0.72);
      });
      textAt(ctx, p.yTitle, p.yTitlePos[0], p.yTitlePos[1], `bold 36px ${SERIF}`, -92, 'center');

      // class and group axes
      classNames.forEach((name, i) => {
        const a = P(i + 0.5, 0, 0);
        const b = P(i + 0.5, -0.14, 0);
        line(ctx, a, b, '#000', 1.5);
        const c = P(i + 0.5, -0.22, 0);
        textAt(ctx, name, c[0], c[1], `bold 22px ${SERIF}`, -38, 'right');
      });
      groupNames.forEach((name, i) => {
        const a = P(n, i + 0.5, 0);
        const b = P(n + 0.17, i + 0.5, 0);
        line(ctx, a, b, '#000', 1.5);
        const c = P(n + 0.34, i + 0.5, 0);
        textAt(ctx, name, c[0], c[1], `bold 17px ${SERIF}`, 18, 'left', 1.3);
      });

      // colour legend
      const lg = p.legend;
      lg.colors.forEach((col: string, i: number) => {
        ctx.fillStyle = col;
        ctx.fillRect(lg.x, lg.y + i * lg.step, lg.w, lg.step + 0.5);
      });
      ctx.strokeStyle = '#000';
      ctx.lineWidth = 1.5;
      ctx.strokeRect(lg.x, lg.y, lg.w, lg.step * lg.colors.length);
      lg.ticks.forEach((t: string, i: number) => {
        const y = lg.y + lg.step * (i + 1);
        line(ctx, [lg.x + lg.w, y], [lg.x + lg.w + 4, y], '#000', 1);
        textAt(ctx, t, lg.x + lg.w + 7, y, `16px ${SERIF}`, 0, 'left');
      });
    },
  };

  return {
    type: 'scatter',
    data: { datasets: [{ data: points, pointRadius: 0, showLine: false }] },
    options: {
      responsive: false,
      animation: false,
      devicePixelRatio: 1,
      events: [],
      plugins: { legend: { display: false }, tooltip: { enabled: false } },
      scales: {
        x: { type: 'linear', min: 0, max: 7, ticks: { display: false }, grid: { display: false }, border: { display: false } },
        z: { type: 'linear', axis: 'x', position: 'top', min: 0, max: 7, ticks: { display: false }, grid: { display: false }, border: { display: false } },
        y: { type: 'linear', min: 0, max: p.yMax, ticks: { display: false, stepSize: p.yStep, includeBounds: false }, grid: { display: false }, border: { display: false } },
      },
    },
    plugins: [plugin],
  };
}

const panelA = make3dConfig({
  rows: [speciesCG, speciesWA1, speciesWA3, speciesWA7, speciesDA1, speciesDA3, speciesDA7],
  bandLimits: speciesBandLimits,
  bandColors: speciesBandColors,
  yMax: 20,
  yStep: 2,
  yTitle: 'Number of compounds (species)',
  yTitlePos: [68, 490],
  stroke: '#555',
  strokeWidth: 1,
  frame: { origin: [122.6, 804], frontRight: [763.6, 932], backRight: [993.3, 686], backLeft: [444, 601], axisTop: [95, 122.5], backTop: [436.7, 28.8] },
  legend: { x: 899, y: 167, w: 29, step: 21.3, colors: speciesLegendColors, ticks: speciesLegendTicks },
});

const panelB = make3dConfig({
  rows: [concCG, concWA1, concWA3, concWA7, concDA1, concDA3, concDA7],
  bandLimits: concBandLimits,
  bandColors: concBandColors,
  yMax: 337,
  yStep: 30,
  yTitle: 'Compounds concentration | (\u03BCg/kg)',
  yTitlePos: [53, 1464],
  stroke: '#C00000',
  strokeWidth: 1.2,
  frame: { origin: [128.6, 1774.5], frontRight: [740, 1930.6], backRight: [1028, 1687.5], backLeft: [493.6, 1582], axisTop: [100.5, 1096], backTop: [487.6, 1007.8] },
  legend: { x: 915.6, y: 1143, w: 28, step: 22.3, colors: concLegendColors, ticks: concLegendTicks },
});

// ---- heatmap panel
function walkTree(node: any, leafPos: (i: number) => number, draw: (lvl: number, a: number, b: number, la: number, lb: number) => void, leafLevel: number): [number, number] {
  if (typeof node === 'number') return [leafPos(node), leafLevel];
  const [a, la] = walkTree(node[1], leafPos, draw, leafLevel);
  const [b, lb] = walkTree(node[2], leafPos, draw, leafLevel);
  draw(node[0], a, b, la, lb);
  return [(a + b) / 2, node[0]];
}

const heatPlugin = {
  id: 'heatExtras',
  afterDatasetsDraw(chart: any) {
    const { ctx, scales, chartArea } = chart;
    ctx.save();
    ctx.strokeStyle = '#808080';
    ctx.lineWidth = 1.6;

    // column tree
    const cy = (l: number) => l / 2.24;
    walkTree(columnTree, (i) => scales.x.getPixelForValue(i + 0.5), (lvl, a, b, la, lb) => {
      ctx.beginPath();
      ctx.moveTo(a, cy(la));
      ctx.lineTo(a, cy(lvl));
      ctx.lineTo(b, cy(lvl));
      ctx.lineTo(b, cy(lb));
      ctx.stroke();
    }, 298);

    // row tree
    const rx = (l: number) => chartArea.left - 1 - (115 - l) / 1.12;
    walkTree(rowTree, (i) => scales.y.getPixelForValue(i), (lvl, a, b, la, lb) => {
      ctx.beginPath();
      ctx.moveTo(rx(la), a);
      ctx.lineTo(rx(lvl), a);
      ctx.lineTo(rx(lvl), b);
      ctx.lineTo(rx(lb), b);
      ctx.stroke();
    }, 115);
    ctx.restore();

    // colour bar
    const barX = 3093 - 1150, barW = 48, barTop = 238, y4 = 242, y2 = 555;
    const valueToY = (v: number) => y4 + ((4 - v) / 6) * (y2 - y4);
    const grad = ctx.createLinearGradient(0, barTop, 0, y2);
    heatStopValues.forEach((v, i) => {
      grad.addColorStop(Math.min(1, Math.max(0, (valueToY(v) - barTop) / (y2 - barTop))), heatStopColors[i]);
    });
    ctx.fillStyle = grad;
    ctx.fillRect(barX, barTop, barW, y2 - barTop);
    heatBarTicks.forEach((v, i) => {
      textAt(ctx, heatBarLabels[i], barX + barW + 20, valueToY(v) + 3, `bold 32px ${SANS}`, 0, 'left');
    });
  },
};

const heatDatasets = heatColumns.map((_, c) => ({
  data: heatRows.map(() => 1),
  backgroundColor: heatValues.map((row) => heatColor(row[c])),
  borderColor: '#ffffff',
  borderWidth: 1.5,
  borderSkipped: false,
  barPercentage: 1,
  categoryPercentage: 1,
}));

const panelC: any = {
  type: 'bar',
  data: { labels: heatRows, datasets: heatDatasets },
  plugins: [heatPlugin],
  options: {
    indexAxis: 'y',
    responsive: false,
    animation: false,
    devicePixelRatio: 1,
    events: [],
    layout: { autoPadding: false, padding: { left: 105, top: 135, right: 194, bottom: 0 } },
    plugins: { legend: { display: false }, tooltip: { enabled: false } },
    scales: {
      x: {
        type: 'linear',
        stacked: true,
        min: 0,
        max: 21,
        grid: { display: false },
        border: { display: false },
        afterBuildTicks: (s: any) => {
          s.ticks = heatColumns.map((_, i) => ({ value: i + 0.5 }));
        },
        afterFit: (s: any) => {
          s.height = 109;
        },
        ticks: {
          autoSkip: false,
          minRotation: 50,
          maxRotation: 50,
          padding: 6,
          color: '#000',
          font: { family: SERIF, size: 34, weight: 'bold' },
          callback: (_: any, i: number) => heatColumns[i],
        },
      },
      y: {
        type: 'category',
        stacked: true,
        position: 'right',
        grid: { display: false },
        border: { display: false },
        afterFit: (s: any) => {
          s.width = 560;
        },
        ticks: { autoSkip: false, padding: 5, labelOffset: 4, color: '#000', font: { family: SERIF, size: 26.5, weight: 'bold' } },
      },
    },
  },
};

// ---- chromatogram panels
const CHROM_TOP_PAD = 40;

function makeChromConfig(p: any) {
  const points: number[][] = [...p.tail];
  p.peaks.forEach(([t, h]: number[]) => {
    points.push([t - 0.05, 0.08], [t, h], [t + 0.07, 0.08]);
  });
  points.sort((a, b) => a[0] - b[0]);
  const trace = [{ x: 0, y: 0.08 }, ...points.map(([x, y]) => ({ x, y })), { x: 40, y: 0.08 }];

  const plugin = {
    id: 'chromExtras',
    afterDatasetsDraw(chart: any) {
      const { ctx, scales, chartArea } = chart;
      const { x, y } = scales;
      ctx.save();
      ctx.strokeStyle = '#444';
      ctx.lineWidth = 1;
      // minor ticks on both axes
      ctx.beginPath();
      for (let t = 0; t <= 40; t += 0.25) {
        ctx.moveTo(x.getPixelForValue(t), chartArea.bottom);
        ctx.lineTo(x.getPixelForValue(t), chartArea.bottom + 3);
      }
      for (let v = 0; v <= y.max; v += 2) {
        ctx.moveTo(chartArea.left, y.getPixelForValue(v));
        ctx.lineTo(chartArea.left - 3, y.getPixelForValue(v));
      }
      ctx.stroke();

      // axis text, squeezed since no narrow face is installed
      x.ticks.forEach((t: any) => {
        textAt(ctx, String(t.value), x.getPixelForValue(t.value), chartArea.bottom + 20, `17px ${SANS}`, 0, 'center', 0.78, 1, '#222');
      });
      y.ticks.forEach((t: any) => {
        textAt(ctx, (t.value * 1000000).toLocaleString('en-US'), chartArea.left - 8, y.getPixelForValue(t.value), `16px ${SANS}`, 0, 'right', 0.77, 1, '#222');
      });
      textAt(ctx, 'Time (min)', (chartArea.left + chartArea.right) / 2, chartArea.bottom + 41, `17px ${SANS}`, 0, 'center', 0.8, 1, '#222');

      // peak labels, with a short leader when moved off their peak
      p.labels.forEach(([text, col, foot]: any[]) => {
        const px = x.getPixelForValue(col);
        const py = y.getPixelForValue(foot);
        const rt = parseFloat(text);
        if (Math.abs(rt - col) > 0.25) {
          const dir = rt > col ? 1 : -1;
          line(ctx, [px, py + 1], [px + dir * 8, py + 6], '#888', 1);
        }
        textAt(ctx, text, px, py - 1, `15.5px ${SANS}`, -90, 'left', 1, 1.15, '#222');
      });

      textAt(ctx, p.name, x.getPixelForValue(p.namePos[0]), y.getPixelForValue(p.namePos[1]), `bold 30px ${SERIF}`, 0, 'center', 0.95);
      ctx.restore();
    },
  };

  return {
    type: 'line',
    data: { datasets: [{ data: trace, borderColor: '#3c3c3c', borderWidth: 1.3, pointRadius: 0, tension: 0 }] },
    options: {
      responsive: false,
      animation: false,
      devicePixelRatio: 1,
      events: [],
      parsing: false,
      layout: { autoPadding: false, padding: { top: CHROM_TOP_PAD, right: 12, left: 0, bottom: 0 } },
      plugins: { legend: { display: false }, tooltip: { enabled: false } },
      scales: {
        x: {
          type: 'linear',
          min: 0,
          max: 40,
          afterFit: (s: any) => {
            s.height = 50;
          },
          grid: { drawOnChartArea: false, tickLength: 7, color: '#444' },
          border: { color: '#333', width: 1.5 },
          ticks: { display: false, stepSize: 5, autoSkip: false },
        },
        y: {
          type: 'linear',
          min: 0,
          max: p.yMax,
          afterBuildTicks: (s: any) => {
            s.ticks = p.yTicks.map((value: number) => ({ value }));
          },
          afterFit: (s: any) => {
            s.width = 87;
          },
          grid: { drawOnChartArea: false, tickLength: 6, color: '#444' },
          border: { color: '#333', width: 1.5 },
          title: { display: true, text: 'Relative Abundance', color: '#222', padding: 0, font: { family: SANS, size: 16 } },
          ticks: { display: false, autoSkip: false },
        },
      },
    },
    plugins: [plugin],
  };
}

const chromPanels = [
  { x0: 124.7, x40: 832.5, top: 2015.7, y0: 2491.8, cfg: makeChromConfig({ name: 'CG', namePos: [12.33, 44.9], yMax: 48.2, yTicks: [0, 5, 15, 25, 35, 45], tail: cgTail, peaks: cgPeaks, labels: cgLabels }) },
  { x0: 926.2, x40: 1634.6, top: 2015.7, y0: 2491.8, cfg: makeChromConfig({ name: 'WA1', namePos: [18.6, 36.1], yMax: 38.8, yTicks: [0, 5, 15, 25, 35], tail: wa1Tail, peaks: wa1Peaks, labels: wa1Labels }) },
  { x0: 1728.3, x40: 2436, top: 2014, y0: 2491.8, cfg: makeChromConfig({ name: 'WA3', namePos: [18.85, 38.8], yMax: 41.65, yTicks: [0, 5, 15, 25, 35, 40], tail: wa3Tail, peaks: wa3Peaks, labels: wa3Labels }) },
  { x0: 2529.9, x40: 3240, top: 2021, y0: 2493.2, cfg: makeChromConfig({ name: 'WA7', namePos: [19.6, 37.9], yMax: 40.2, yTicks: [0, 5, 15, 25, 35, 40], tail: wa7Tail, peaks: wa7Peaks, labels: wa7Labels }) },
  { x0: 553.6, x40: 1261, top: 2556, y0: 3030.1, cfg: makeChromConfig({ name: 'DA1', namePos: [19.24, 32.7], yMax: 35.6, yTicks: [0, 5, 15, 25, 35], tail: da1Tail, peaks: da1Peaks, labels: da1Labels }) },
  { x0: 1356.2, x40: 2062, top: 2557.2, y0: 3030.8, cfg: makeChromConfig({ name: 'DA3', namePos: [21.3, 36], yMax: 39.2, yTicks: [0, 5, 15, 25, 35], tail: da3Tail, peaks: da3Peaks, labels: da3Labels }) },
  { x0: 2163.8, x40: 2870, top: 2565.9, y0: 3030.8, cfg: makeChromConfig({ name: 'DA7', namePos: [20.8, 39.6], yMax: 42.2, yTicks: [0, 5, 15, 25, 35], tail: da7Tail, peaks: da7Peaks, labels: da7Labels }) },
];

const panelLetters = [
  { text: '(A)', x: 33, y: 40 },
  { text: '(B)', x: 37, y: 1026 },
  { text: '(C)', x: 1074, y: 46 },
  { text: '(D)', x: 47, y: 1952 },
];

export default function App() {
  return (
    <div style={{ position: 'absolute', left: 0, top: 0, width: 3273, height: 3103, background: '#fff', overflow: 'hidden' }}>
      <ChartCanvas left={0} top={0} width={1100} height={2000} config={panelA} />
      <ChartCanvas left={0} top={0} width={1100} height={2000} config={panelB} />
      <ChartCanvas left={1150} top={0} width={2120} height={2000} config={panelC} />
      {chromPanels.map((c, i) => (
        <ChartCanvas key={i} left={c.x0 - 87} top={c.top - CHROM_TOP_PAD} width={Math.round(c.x40 - c.x0 + 87 + 12)} height={Math.round(c.y0 - c.top + CHROM_TOP_PAD + 50)} config={c.cfg} />
      ))}
      {panelLetters.map((l) => (
        <div key={l.text} style={{ position: 'absolute', left: l.x, top: l.y, font: `38px ${SERIF}`, color: '#000' }}>
          {l.text}
        </div>
      ))}
    </div>
  );
}
